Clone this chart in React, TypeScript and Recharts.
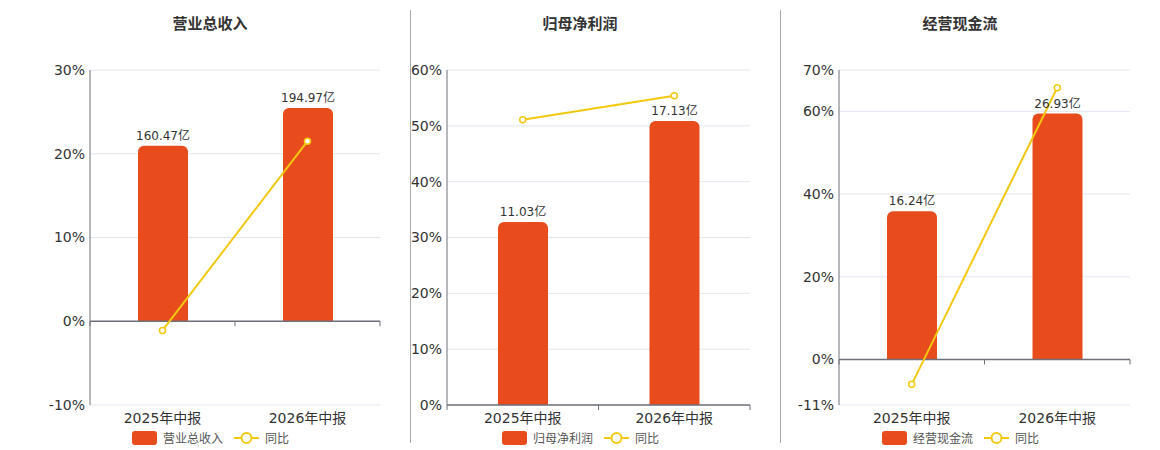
import React from "react"
import {
  Bar,
  CartesianGrid,
  ComposedChart,
  LabelList,
  Line,
  ReferenceLine,
  XAxis,
  YAxis,
} from "recharts"

const periods = ["2025年中报", "2026年中报"]

const revenue = [160.47, 194.97]
const revenueYoy = [-1.1, 21.5]
const revenueTicks = [-10, 0, 10, 20, 30]

const profit = [11.03, 17.13]
const profitYoy = [51.1, 55.4]
const profitTicks = [0, 10, 20, 30, 40, 50, 60]

const cashflow = [16.24, 26.93]
const cashflowYoy = [-6.0, 65.7]
const cashflowTicks = [-11, 0, 20, 40, 60, 70]

const BAR = "#e84c1c"
const LINE = "#f2c811"
const FONT = "'DejaVu Sans', 'Noto Sans CJK SC', sans-serif"

type PanelProps = {
  title: string
  left: number
  width: number
  center: number
  amounts: number[]
  yoy: number[]
  ticks: number[]
  amountDomain: [number, number]
  plotRight: number
}

// axis line on the zero value, with small ticks between the categories
const ZeroAxis = (props: any) => {
  const { x1, y1, x2 } = props
  const step = (x2 - x1) / periods.length
  const marks = []
  for (let i = 0; i <= periods.length; i++) {
    const x = x1 + step * i
    marks.push(<line key={i} x1={x} x2={x} y1={y1} y2={y1 + 5} stroke="#6e7079" strokeWidth={1} />)
  }
  return (
    <g>
      <line x1={x1} x2={x2} y1={y1} y2={y1} stroke="#6e7079" strokeWidth={1.5} />
      {marks}
    </g>
  )
}

function Panel({ title, left, width, center, amounts, yoy, ticks, amountDomain, plotRight }: PanelProps) {
  const data = periods.map((p, i) => ({
    name: p,
    amount: amounts[i],
    yoy: yoy[i],
    label: `${amounts[i].toFixed(2)}亿`,
  }))
  const yAxisWidth = 90 - (left === 0 ? 0 : 0)
  return (
    <div style={{ position: "absolute", left, top: 0, width, height: 450 }}>
      <div
        style={{
          position: "absolute",
          left: center - left - 100,
          width: 200,
          top: 12,
          textAlign: "center",
          fontFamily: FONT,
          fontSize: 15,
          fontWeight: "bold",
          color: "#333",
        }}
      >
        {title}
      </div>
      <ComposedChart
        width={width}
        height={450}
        data={data}
        margin={{ top: 70, right: width - plotRight, bottom: 15, left: 0 }}
        style={{ fontFamily: FONT }}
      >
        <CartesianGrid yAxisId="pct" vertical={false} stroke="#e0e6f1" />
        <XAxis
          dataKey="name"
          height={30}
          axisLine={false}
          tickLine={false}
          tick={{ fontSize: 14, fill: "#333" }}
        />
        <YAxis
          yAxisId="pct"
          width={yAxisWidth}
          domain={[ticks[0], ticks[ticks.length - 1]]}
          ticks={ticks}
          interval={0}
          tickFormatter={(v) => `${v}%`}
          tickLine={false}
          tickSize={5}
          tickMargin={0}
          axisLine={{ stroke: "#6e7079" }}
          tick={{ fontSize: 14, fill: "#333" }}
        />
        <YAxis yAxisId="amt" orientation="right" hide domain={amountDomain} />
        <ReferenceLine yAxisId="pct" y={0} shape={ZeroAxis} />
        <Bar yAxisId="amt" dataKey="amount" fill={BAR} barSize={50} radius={[6, 6, 0, 0]} isAnimationActive={false}>
          <LabelList dataKey="label" position="top" offset={6} fontSize={12} fill="#333" />
        </Bar>
        <Line
          yAxisId="pct"
          type="linear"
          dataKey="yoy"
          stroke={LINE}
          strokeWidth={2}
          dot={{ r: 3, fill: "#fff", stroke: LINE, strokeWidth: 1.5 }}
          isAnimationActive={false}
        />
      </ComposedChart>
      <div
        style={{
          position: "absolute",
          left: center - left - 78,
          top: 429,
          display: "flex",
          alignItems: "center",
          fontFamily: FONT,
          fontSize: 12,
          color: "#555",
          whiteSpace: "nowrap",
        }}
      >
        <span style={{ display: "inline-block", width: 25, height: 14, borderRadius: 3, background: BAR }} />
        <span style={{ marginLeft: 6 }}>{title}</span>
        <svg width={25} height={14} style={{ marginLeft: 11 }}>
          <line x1={0} x2={25} y1={7} y2={7} stroke={LINE} strokeWidth={2} />
          <circle cx={12.5} cy={7} r={5} fill="#fff" stroke={LINE} strokeWidth={2} />
        </svg>
        <span style={{ marginLeft: 6 }}>同比</span>
      </div>
    </div>
  )
}

export default function App() {
  return (
    <div style={{ position: "relative", width: 1160, height: 450, background: "#fff" }}>
      <style>{"body{margin:0}"}</style>
      <Panel
        title="营业总收入"
        left={0}
        width={410}
        center={210}
        amounts={revenue}
        yoy={revenueYoy}
        ticks={revenueTicks}
        amountDomain={[-76.6, 229.8]}
        plotRight={380}
      />
      <Panel
        title="归母净利润"
        left={357}
        width={410}
        center={580}
        amounts={profit}
        yoy={profitYoy}
        ticks={profitTicks}
        amountDomain={[0, 20.2]}
        plotRight={393}
      />
      <Panel
        title="经营现金流"
        left={749}
        width={411}
        center={960}
        amounts={cashflow}
        yoy={cashflowYoy}
        ticks={cashflowTicks}
        amountDomain={[-4.98, 31.7]}
        plotRight={381}
      />
      <div style={{ position: "absolute", left: 410, top: 10, width: 1, height: 433, background: "#aaa" }} />
      <div style={{ position: "absolute", left: 780, top: 10, width: 1, height: 433, background: "#aaa" }} />
    </div>
  )
}
